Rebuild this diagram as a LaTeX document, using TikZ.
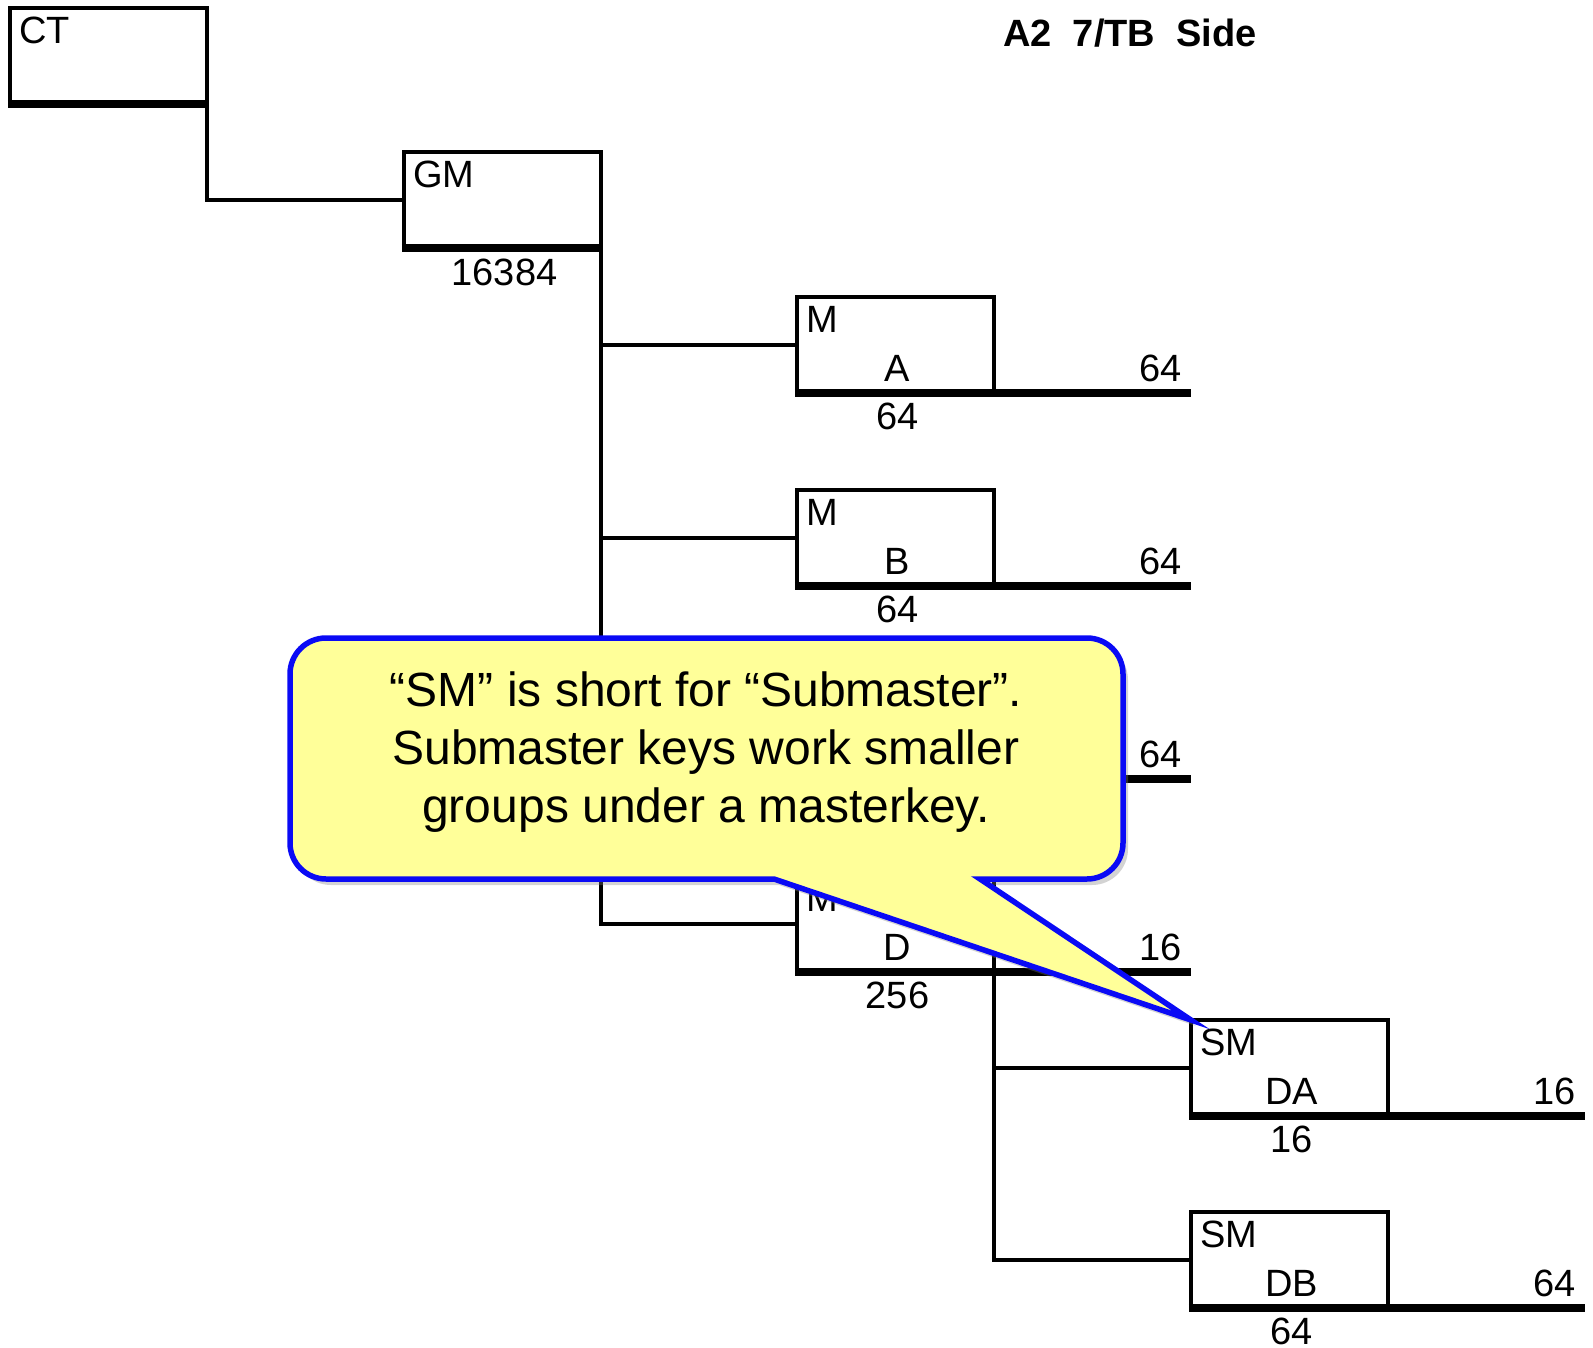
\documentclass[tikz,border=0pt]{standalone}
\usepackage{fontspec}
\setmainfont{Liberation Sans}
\usetikzlibrary{positioning,shadows}

\definecolor{notefill}{HTML}{FFFF99}
\definecolor{noteline}{HTML}{0A0AF5}

\begin{document}
\begin{tikzpicture}[
  x=1pt, y=-1pt,
  keybox/.style={draw, line width=4.2pt, outer sep=0pt, inner sep=0pt, minimum width=197pt, minimum height=96pt},
  link/.style={line width=4.2pt},
  base/.style={line width=7.5pt},
  tag/.style={inner sep=0pt, font=\fontsize{38}{44}\selectfont},
  note/.style={draw=noteline, line width=5.5pt, fill=notefill,
    drop shadow={opacity=0.35, shadow xshift=5pt, shadow yshift=-6pt}}
]
  \useasboundingbox (0,0) rectangle (1593,1348);

  % key boxes
  \node[keybox] (CT) at (108.5,56) {};
  \node[keybox, below right=48pt and 197pt of CT] (GM) {};
  \node[keybox, below right=49pt and 196pt of GM] (MA) {};
  \node[keybox, below=97pt of MA] (MB) {};
  \node[keybox, below=97pt of MB] (MC) {};
  \node[keybox, below=97pt of MC] (MD) {};
  \node[keybox, below right=48pt and 197pt of MD] (DA) {};
  \node[keybox, below=96pt of DA] (DB) {};

  % links
  \draw[link] (CT.south east) |- (GM.west);
  \draw[link] (GM.south east) |- (MD.west);
  \foreach \b in {MA,MB,MC}
    \draw[link] (GM.south east |- \b.west) -- (\b.west);
  \draw[link] (MD.south east) |- (DB.west);
  \draw[link] (MD.south east |- DA.west) -- (DA.west);

  % thick bottoms and tails
  \draw[base] ([xshift=-2.1pt]CT.south west) -- (CT.south east);
  \draw[base] ([xshift=-2.1pt]GM.south west) -- (GM.south east);
  \foreach \b in {MA,MB,MC,MD}
    \draw[base] ([xshift=-2.1pt]\b.south west) -- (\b.south -| DA.west) coordinate (\b-end);
  \foreach \b in {DA,DB}
    \draw[base] ([xshift=-2.1pt]\b.south west) -- ([xshift=197pt]\b.south east) coordinate (\b-end);

  % labels
  \node[tag, anchor=north west] (CT-top) at ([shift={(9,9)}]CT.north west) {CT};
  \node[tag, anchor=north west] (GM-top) at ([shift={(9,9)}]GM.north west) {GM};
  \node[tag, anchor=north] (GM-sub) at ([shift={(2,11)}]GM.south) {16384};
  \foreach \b/\pre/\mid/\sub/\tail in {MA/M/A/64/64, MB/M/B/64/64, MD/M/D/256/16, DA/SM/DA/16/16, DB/SM/DB/64/64} {
    \node[tag, anchor=north west] (\b-top) at ([shift={(9,9)}]\b.north west) {\pre};
    \node[tag, anchor=base] (\b-mid) at ([shift={(2,-12)}]\b.south) {\mid};
    \node[tag, anchor=north] (\b-sub) at ([shift={(2,10)}]\b.south) {\sub};
    \node[tag, anchor=base east] (\b-num) at ([shift={(-9,-12)}]\b-end) {\tail};
  }
  \node[tag, anchor=base east] (MC-num) at ([shift={(-9,-12)}]MC-end) {64};

  \node[tag, font=\bfseries\fontsize{38}{44}\selectfont, anchor=base] (title) at (1130,47) {A2\ \ 7/TB\ \ Side};

  % callout
  \draw[note] (DA.north west) -- (774,879)
    [rounded corners=36] -- (290,879) -- (290,638) -- (1123,638) -- (1123,879)
    [sharp corners] -- (980,879) -- cycle;
  \node[font=\fontsize{48}{58}\selectfont, align=center] (note) at (706,752)
    {“SM” is short for “Submaster”.\\Submaster keys work smaller\\groups under a masterkey.};
\end{tikzpicture}
\end{document}
